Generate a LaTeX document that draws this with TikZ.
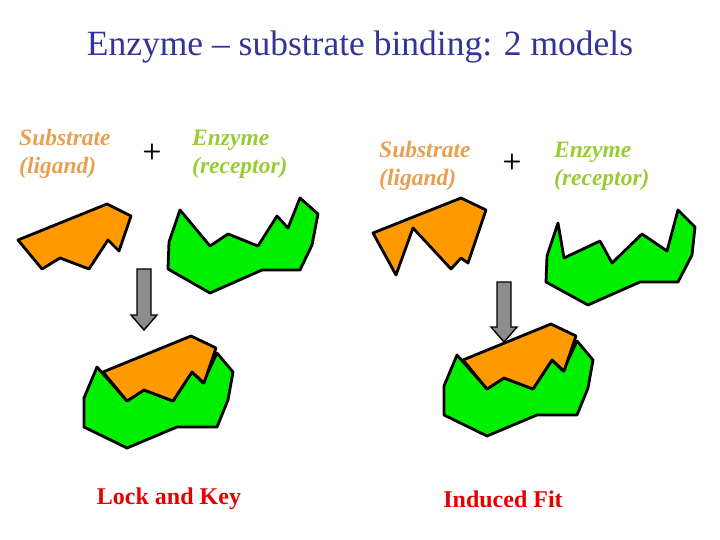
\documentclass[tikz,border=0pt]{standalone}
\usepackage{fontspec}
\setmainfont{Liberation Serif}
\definecolor{ttl}{RGB}{51,51,153}
\definecolor{org}{RGB}{255,153,0}
\definecolor{orgt}{RGB}{232,160,80}
\definecolor{grn}{RGB}{0,240,0}
\definecolor{grnt}{RGB}{153,204,51}
\definecolor{lk}{RGB}{230,0,0}
\begin{document}
\begin{tikzpicture}[x=1pt,y=-1pt,
  poly/.style={draw=black,line width=2.8pt,line join=round},
  sub/.style={font=\fontsize{23.5}{28}\selectfont\bfseries\itshape,text=orgt,align=left,anchor=west,inner sep=0},
  enz/.style={font=\fontsize{23.5}{28}\selectfont\bfseries\itshape,text=grnt,align=left,anchor=west,inner sep=0},
  plus/.style={font=\sffamily\bfseries\fontsize{22}{22}\selectfont,inner sep=0},
  captxt/.style={font=\fontsize{24}{28}\selectfont\bfseries,text=lk,inner sep=0},
  arr/.style={draw=black,fill=gray!90,line width=1.4pt}]
\useasboundingbox (0,0) rectangle (720,540);
\node[font=\fontsize{35.5}{40}\selectfont,text=ttl] (title) at (360,47) {Enzyme -- substrate binding: 2 models};
% left top
\node[sub] (s1) at (19,154) {Substrate\\(ligand)};
\node[plus] (p1) at (152,152) {+};
\node[enz] (e1) at (192,154) {Enzyme\\(receptor)};
\fill[org,poly] (18,240)--(107,204)--(131,216)--(119,251)--(108,240)--(89,269)--(60,258)--(42,269)--cycle;
\fill[grn,poly] (180,210)--(210,246)--(228,234)--(258,246)--(277,216)--(288,228)--(300,198)--(318,214)--(312,245)--(300,270)--(262,270)--(210,293)--(168,269)--(169,242)--cycle;
\draw[arr] (137,269)--(151,269)--(151,315)--(157,315)--(144,330)--(131,315)--(137,315)--cycle;
\begin{scope}
\fill[grn,poly] (97,367)--(127,401)--(144,390)--(173,401)--(192,372)--(203,383)--(217,353)--(233,372)--(228,400)--(217,427)--(177,427)--(127,448)--(84,427)--(84,398)--cycle;
\fill[org,poly] (103,372)--(191,336)--(216,348)--(204,383)--(192,372)--(173,401)--(144,390)--(127,401)--cycle;
\end{scope}
\node[captxt] (c1) at (169,499) {Lock and Key};
% right
\node[sub] (s2) at (379,166) {Substrate\\(ligand)};
\node[plus] (p2) at (512,162) {+};
\node[enz] (e2) at (554,166) {Enzyme\\(receptor)};
\fill[org,poly] (373,233)--(461,198)--(486,210)--(468,263)--(461,258)--(451,269)--(413,228)--(396,275)--cycle;
\fill[grn,poly] (558,223)--(564,258)--(600,241)--(612,263)--(642,234)--(667,251)--(678,210)--(695,227)--(692,255)--(678,282)--(640,282)--(588,305)--(546,282)--(547,256)--cycle;
\draw[arr] (497,282)--(511,282)--(511,327)--(517,327)--(504,342)--(491,327)--(497,327)--cycle;
\begin{scope}[shift={(360,-12)}]
\fill[grn,poly] (97,367)--(127,401)--(144,390)--(173,401)--(192,372)--(203,383)--(217,353)--(233,372)--(228,400)--(217,427)--(177,427)--(127,448)--(84,427)--(84,398)--cycle;
\fill[org,poly] (103,372)--(191,336)--(216,348)--(204,383)--(192,372)--(173,401)--(144,390)--(127,401)--cycle;
\end{scope}
\node[captxt] (c2) at (503,499) {Induced Fit};
\end{tikzpicture}
\end{document}
